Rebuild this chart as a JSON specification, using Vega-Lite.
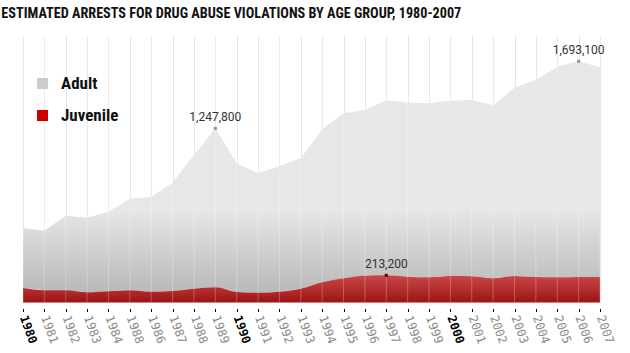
{
  "$schema": "https://vega.github.io/schema/vega-lite/v6.json",
  "autosize": "none",
  "width": 577,
  "height": 267.5,
  "padding": {"left": 23, "top": 35, "right": 30, "bottom": 50},
  "background": "white",
  "title": {
    "text": "ESTIMATED ARRESTS FOR DRUG ABUSE VIOLATIONS BY AGE GROUP, 1980-2007",
    "anchor": "start",
    "dx": -16,
    "offset": 13,
    "font": "Roboto Condensed, DejaVu Sans Condensed, sans-serif",
    "fontSize": 14.2,
    "fontWeight": "bold",
    "color": "#111111"
  },
  "config": {"view": {"stroke": null}},
  "data": {
    "values": [
      {"year": 1980, "group": "Adult", "value": 468600},
      {"year": 1981, "group": "Adult", "value": 467900},
      {"year": 1982, "group": "Adult", "value": 585600},
      {"year": 1983, "group": "Adult", "value": 585600},
      {"year": 1984, "group": "Adult", "value": 624900},
      {"year": 1985, "group": "Adult", "value": 719100},
      {"year": 1986, "group": "Adult", "value": 745800},
      {"year": 1987, "group": "Adult", "value": 850200},
      {"year": 1988, "group": "Adult", "value": 1049500},
      {"year": 1989, "group": "Adult", "value": 1247800},
      {"year": 1990, "group": "Adult", "value": 1010300},
      {"year": 1991, "group": "Adult", "value": 937300},
      {"year": 1992, "group": "Adult", "value": 986700},
      {"year": 1993, "group": "Adult", "value": 1023600},
      {"year": 1994, "group": "Adult", "value": 1201000},
      {"year": 1995, "group": "Adult", "value": 1295300},
      {"year": 1996, "group": "Adult", "value": 1300700},
      {"year": 1997, "group": "Adult", "value": 1373800},
      {"year": 1998, "group": "Adult", "value": 1365900},
      {"year": 1999, "group": "Adult", "value": 1365900},
      {"year": 2000, "group": "Adult", "value": 1376100},
      {"year": 2001, "group": "Adult", "value": 1384000},
      {"year": 2002, "group": "Adult", "value": 1358100},
      {"year": 2003, "group": "Adult", "value": 1478200},
      {"year": 2004, "group": "Adult", "value": 1546500},
      {"year": 2005, "group": "Adult", "value": 1653200},
      {"year": 2006, "group": "Adult", "value": 1693100},
      {"year": 2007, "group": "Adult", "value": 1646100},
      {"year": 1980, "group": "Juvenile", "value": 113800},
      {"year": 1981, "group": "Juvenile", "value": 95800},
      {"year": 1982, "group": "Juvenile", "value": 95800},
      {"year": 1983, "group": "Juvenile", "value": 80100},
      {"year": 1984, "group": "Juvenile", "value": 87900},
      {"year": 1985, "group": "Juvenile", "value": 95800},
      {"year": 1986, "group": "Juvenile", "value": 84800},
      {"year": 1987, "group": "Juvenile", "value": 90300},
      {"year": 1988, "group": "Juvenile", "value": 108300},
      {"year": 1989, "group": "Juvenile", "value": 119300},
      {"year": 1990, "group": "Juvenile", "value": 82400},
      {"year": 1991, "group": "Juvenile", "value": 76900},
      {"year": 1992, "group": "Juvenile", "value": 84800},
      {"year": 1993, "group": "Juvenile", "value": 108300},
      {"year": 1994, "group": "Juvenile", "value": 158600},
      {"year": 1995, "group": "Juvenile", "value": 190000},
      {"year": 1996, "group": "Juvenile", "value": 210400},
      {"year": 1997, "group": "Juvenile", "value": 213200},
      {"year": 1998, "group": "Juvenile", "value": 202500},
      {"year": 1999, "group": "Juvenile", "value": 197800},
      {"year": 2000, "group": "Juvenile", "value": 208000},
      {"year": 2001, "group": "Juvenile", "value": 205700},
      {"year": 2002, "group": "Juvenile", "value": 190000},
      {"year": 2003, "group": "Juvenile", "value": 208000},
      {"year": 2004, "group": "Juvenile", "value": 200200},
      {"year": 2005, "group": "Juvenile", "value": 197800},
      {"year": 2006, "group": "Juvenile", "value": 200200},
      {"year": 2007, "group": "Juvenile", "value": 200200}
    ]
  },
  "transform": [
    {"stack": "value", "groupby": ["year"], "sort": [{"field": "group", "order": "descending"}], "as": ["y0", "y1"]}
  ],
  "encoding": {
    "x": {
      "field": "year",
      "type": "quantitative",
      "scale": {"domain": [1980, 2007], "nice": false, "zero": false},
      "axis": {
        "title": null,
        "values": [1980,1981,1982,1983,1984,1985,1986,1987,1988,1989,1990,1991,1992,1993,1994,1995,1996,1997,1998,1999,2000,2001,2002,2003,2004,2005,2006,2007],
        "labelExpr": "datum.value == 1985 ? '1988' : '' + datum.value",
        "domain": false,
        "grid": true,
        "gridColor": "#e6e6e6",
        "gridWidth": 1,
        "tickColor": "#000000",
        "tickSize": 3,
        "offset": 6,
        "labelAngle": 70,
        "labelAlign": "left",
        "labelBaseline": "middle",
        "labelPadding": 4,
        "labelFont": "DejaVu Sans Mono",
        "labelFontSize": 12,
        "labelColor": {"condition": {"test": "datum.value % 10 === 0", "value": "#000000"}, "value": "#8a8a8a"},
        "labelFontWeight": {"condition": {"test": "datum.value % 10 === 0", "value": "bold"}, "value": "normal"},
        "labelOverlap": false,
        "zindex": 0
      }
    }
  },
  "layer": [
    {
      "transform": [{"filter": "datum.group === 'Adult'"}],
      "mark": {
        "type": "area",
        "fill": {
          "gradient": "linear", "x1": 0, "y1": 0, "x2": 0, "y2": 1,
          "stops": [
            {"offset": 0, "color": "#e8e6e8"},
            {"offset": 0.64, "color": "#e8e6e8"},
            {"offset": 1, "color": "#b9b9b9"}
          ]
        }
      },
      "encoding": {
        "y": {"field": "y1", "type": "quantitative", "scale": {"domain": [0, 2100000], "nice": false}, "axis": null},
        "y2": {"field": "y0"}
      }
    },
    {
      "transform": [{"filter": "datum.group === 'Juvenile'"}],
      "mark": {
        "type": "area",
        "interpolate": "monotone",
        "fill": {
          "gradient": "linear", "x1": 0, "y1": 0, "x2": 0, "y2": 1,
          "stops": [
            {"offset": 0, "color": "#cb4747"},
            {"offset": 1, "color": "#9c1515"}
          ]
        }
      },
      "encoding": {
        "y": {"field": "y1", "type": "quantitative"},
        "y2": {"field": "y0"}
      }
    },
    {
      "transform": [{"filter": "datum.group === 'Adult'"}],
      "mark": {"type": "rule", "color": "#ffffff", "opacity": 0.25, "strokeWidth": 1},
      "encoding": {}
    },
    {
      "transform": [{"filter": "datum.year === 1980"}],
      "mark": {"type": "square", "opacity": 0, "size": 1},
      "encoding": {
        "y": {"field": "y1", "type": "quantitative"},
        "color": {
          "field": "group", "type": "nominal",
          "scale": {"domain": ["Adult", "Juvenile"], "range": ["#cccccc", "#cc0000"]},
          "legend": {
            "title": null,
            "orient": "none",
            "legendX": 11,
            "legendY": 40,
            "symbolType": "square",
            "symbolSize": 121,
            "symbolOpacity": 1,
            "symbolStrokeWidth": 0,
            "labelFont": "Roboto Condensed, DejaVu Sans Condensed, sans-serif",
            "labelFontSize": 17,
            "labelFontWeight": "bold",
            "labelColor": "#111111",
            "labelOffset": 10,
            "rowPadding": 14
          }
        }
      }
    },
    {
      "transform": [{"filter": "(datum.group === 'Adult' && (datum.year === 1989 || datum.year === 2006)) || (datum.group === 'Juvenile' && datum.year === 1997)"}],
      "mark": {"type": "square", "size": 10, "opacity": 1},
      "encoding": {
        "y": {"field": "y1", "type": "quantitative"},
        "fill": {"condition": {"test": "datum.group === 'Adult'", "value": "#999999"}, "value": "#6b0000"}
      }
    },
    {
      "transform": [{"filter": "(datum.group === 'Adult' && (datum.year === 1989 || datum.year === 2006)) || (datum.group === 'Juvenile' && datum.year === 1997)"}],
      "mark": {"type": "text", "dy": -7, "baseline": "alphabetic", "font": "Roboto", "fontSize": 12, "color": "#333333"},
      "encoding": {
        "y": {"field": "y1", "type": "quantitative"},
        "text": {"field": "value", "type": "quantitative", "format": ","}
      }
    }
  ]
}
